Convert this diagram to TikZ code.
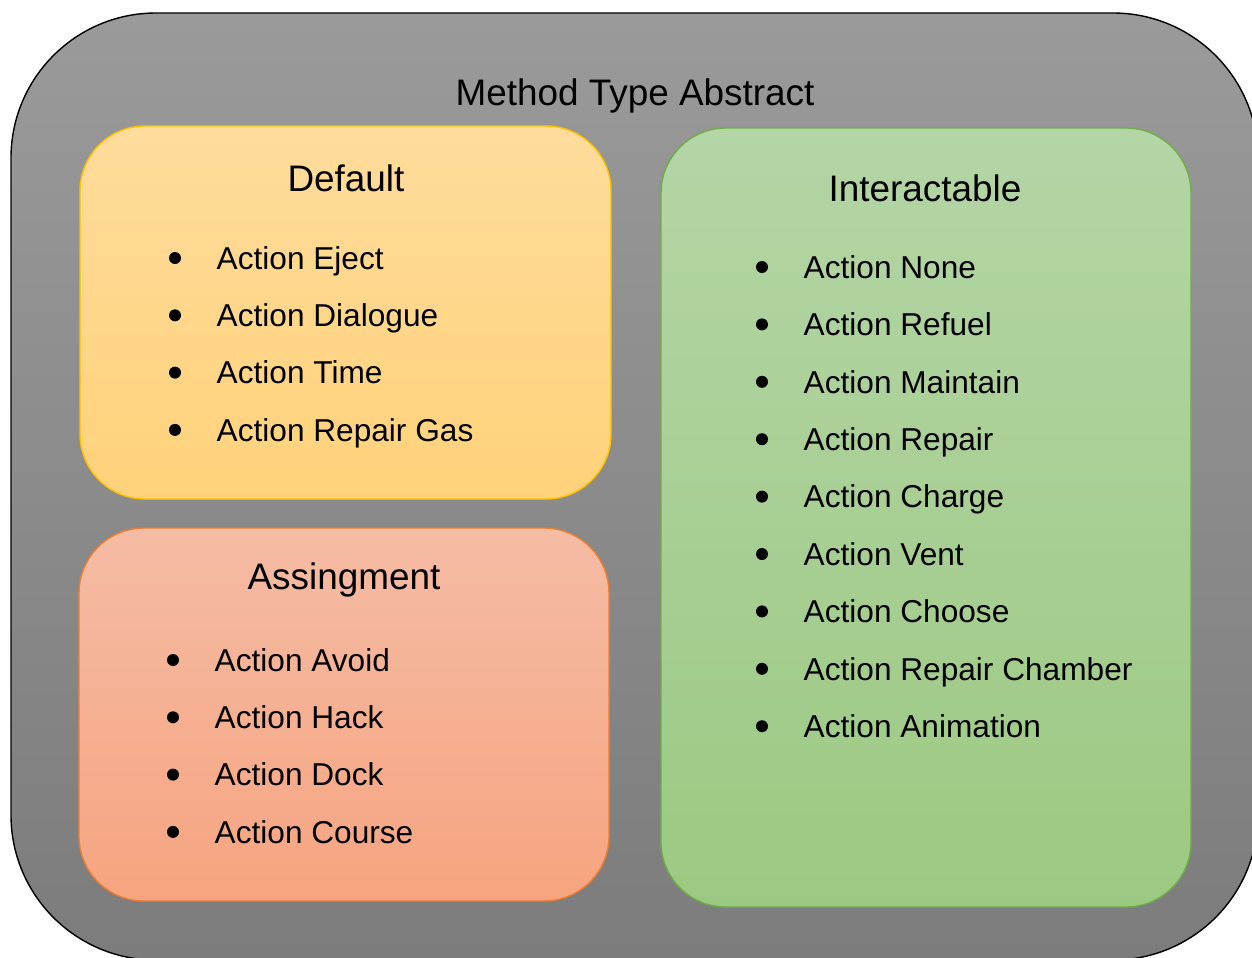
\documentclass[tikz,border=0pt]{standalone}
\usepackage{fontspec}
\setmainfont{Liberation Sans}
\begin{document}
\begin{tikzpicture}
        %colores
        \definecolor{outtop}{HTML}{9A9A9A}
        \definecolor{outbot}{HTML}{7C7C7C}
        \definecolor{deftop}{HTML}{FFDC9C}
        \definecolor{defbot}{HTML}{FFD27A}
        \definecolor{defline}{HTML}{FFC000}
        \definecolor{asgtop}{HTML}{F5BCA4}
        \definecolor{asgbot}{HTML}{F6A480}
        \definecolor{asgline}{HTML}{ED7D31}
        \definecolor{inttop}{HTML}{B4D5A6}
        \definecolor{intbot}{HTML}{9CC982}
        \definecolor{intline}{HTML}{70AD47}
        \tikzset{head/.style={font=\fontsize{10.5}{12.6}\selectfont},
                 item/.style={anchor=mid west,inner sep=0pt,font=\fontsize{9}{10.8}\selectfont}}
        \useasboundingbox (0,0) rectangle (12.52,9.57);
        \clip (0,0) rectangle (12.52,9.57);

        % Caja exterior
        \draw[top color=outtop,bottom color=outbot,rounded corners=1.45cm]
            (0.11,-0.03) rectangle (12.58,9.44);
        \node[head] (title) at (6.35,8.61) {Method Type Abstract};

        % Caja Default
        \draw[top color=deftop,bottom color=defbot,draw=defline,rounded corners=0.65cm]
            (0.80,4.58) rectangle (6.11,8.31);
        \node[head] (default) at (3.46,7.79) {Default};
        \foreach \i/\txt in {1/Eject,2/Dialogue,3/Time,4/Repair Gas}
        {
            \fill (1.75,6.99-0.573*\i+0.573) circle (0.06);
            \node[item] (def-\i) at (2.16,6.97-0.573*\i+0.573) {Action \txt};
        }

        % Caja Assingment
        \draw[top color=asgtop,bottom color=asgbot,draw=asgline,rounded corners=0.65cm]
            (0.79,0.56) rectangle (6.09,4.29);
        \node[head] (assign) at (3.44,3.77) {Assingment};
        \foreach \i/\txt in {1/Avoid,2/Hack,3/Dock,4/Course}
        {
            \fill (1.73,2.97-0.573*\i+0.573) circle (0.06);
            \node[item] (asg-\i) at (2.14,2.95-0.573*\i+0.573) {Action \txt};
        }

        % Caja Interactable
        \draw[top color=inttop,bottom color=intbot,draw=intline,rounded corners=0.65cm]
            (6.61,0.50) rectangle (11.91,8.29);
        \node[head] (interact) at (9.25,7.69) {Interactable};
        \foreach \i/\txt in {1/None,2/Refuel,3/Maintain,4/Repair,5/Charge,6/Vent,7/Choose,8/Repair Chamber,9/Animation}
        {
            \fill (7.62,6.90-0.574*\i+0.574) circle (0.06);
            \node[item] (int-\i) at (8.03,6.88-0.574*\i+0.574) {Action \txt};
        }
\end{tikzpicture}
\end{document}
